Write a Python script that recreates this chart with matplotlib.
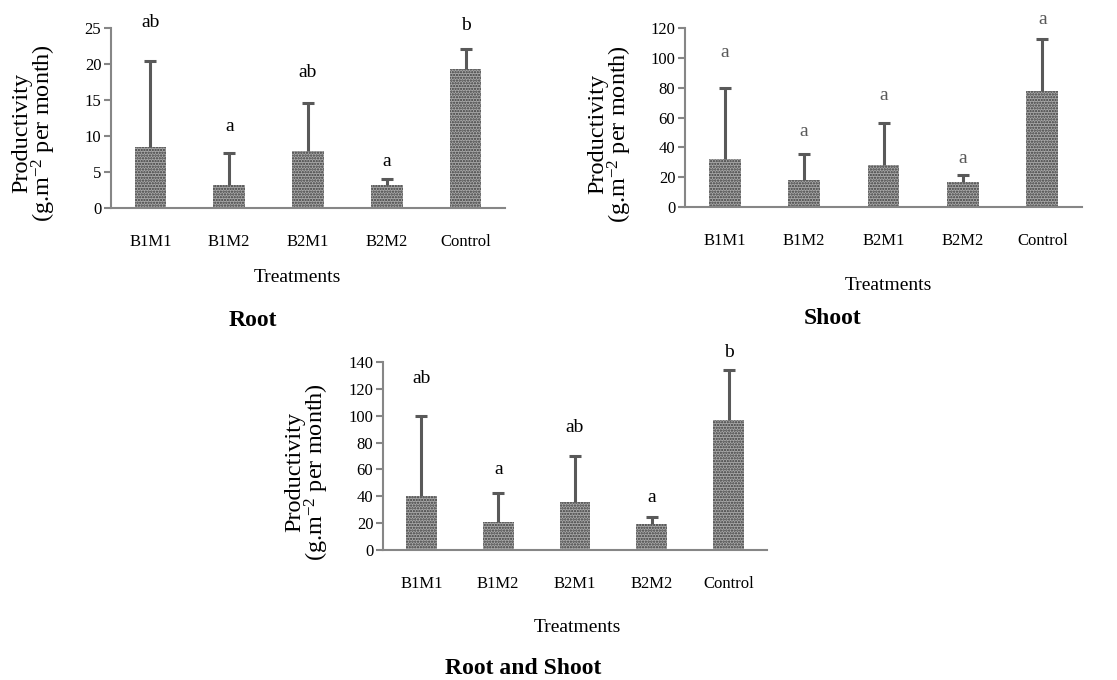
import numpy as np
import matplotlib
matplotlib.use("Agg")
import matplotlib.pyplot as plt

plt.rcParams["font.family"] = ["Liberation Serif", "DejaVu Serif"]
plt.rcParams["mathtext.fontset"] = "custom"
plt.rcParams["mathtext.rm"] = "Liberation Serif"
plt.rcParams["mathtext.it"] = "Liberation Serif:italic"
plt.rcParams["hatch.linewidth"] = 1.1

# ---- data ----
categories = ["B1M1", "B1M2", "B2M1", "B2M2", "Control"]

root_mean = [8.5, 3.2, 7.9, 3.2, 19.3]
root_upper = [20.4, 7.7, 14.6, 4.0, 22.1]
root_letters = ["ab", "a", "ab", "a", "b"]
root_letter_y = [25.8, 11.3, 18.8, 6.4, 25.4]
root_ticks = [0, 5, 10, 15, 20, 25]

shoot_mean = [32.0, 17.9, 28.2, 16.8, 77.8]
shoot_upper = [79.5, 35.3, 56.3, 21.7, 112.6]
shoot_letters = ["a", "a", "a", "a", "a"]
shoot_letter_y = [103.9, 50.3, 74.9, 32.4, 125.8]
shoot_ticks = [0, 20, 40, 60, 80, 100, 120]

both_mean = [40.2, 20.6, 35.5, 19.1, 96.8]
both_upper = [99.8, 42.2, 70.2, 24.6, 134.0]
both_letters = ["ab", "a", "ab", "a", "b"]
both_letter_y = [128, 60, 91, 39, 147]
both_ticks = [0, 20, 40, 60, 80, 100, 120, 140]

W, H = 1117, 680
fig = plt.figure(figsize=(W / 100, H / 100), dpi=100)

AXIS_GRAY = "#868686"
ERR_GRAY = "#595959"
YLABEL = "Productivity\n(g.m$^{-2}$ per month)"


def px_rect(left, top, right, bottom):
    return [left / W, (H - bottom) / H, (right - left) / W, (bottom - top) / H]


def draw_panel(rect, mean, upper, letters, letter_y, ticks, letter_color,
               ylab_xy, treat_xy, title, title_xy):
    ax = fig.add_axes(px_rect(*rect))
    x = np.arange(len(categories))
    mean = np.array(mean)
    upper = np.array(upper)
    ax.bar(x, mean, width=0.4, color="#a9a9a9", edgecolor="#3a3a3a",
           linewidth=0, hatch="......", zorder=2)
    _, caps, _ = ax.errorbar(x, mean, yerr=[np.zeros_like(mean), upper - mean],
                             fmt="none", ecolor=ERR_GRAY, elinewidth=2.2,
                             capsize=4.5, capthick=2.2, zorder=3)
    # only the upper caps, like the one-sided bars in the original
    for c in caps:
        if np.allclose(c.get_ydata(), mean):
            c.set_visible(False)
    for xi, lab, ly in zip(x, letters, letter_y):
        ax.text(xi, ly, lab, ha="center", va="center", fontsize=14, color=letter_color)
    ax.set_xlim(-0.5, len(categories) - 0.5)
    ax.set_ylim(0, ticks[-1])
    ax.set_yticks(ticks)
    ax.set_xticks(x)
    ax.set_xticklabels(categories)
    for s in ["top", "right"]:
        ax.spines[s].set_visible(False)
    for s in ["left", "bottom"]:
        ax.spines[s].set_color(AXIS_GRAY)
        ax.spines[s].set_linewidth(1.5)
    ax.tick_params(axis="y", colors=AXIS_GRAY, labelcolor="black", length=5,
                   width=1.5, labelsize=12, pad=2)
    ax.tick_params(axis="x", length=0, labelsize=12, pad=19)
    fig.text(ylab_xy[0] / W, 1 - ylab_xy[1] / H, YLABEL, rotation=90, ha="center",
             va="center", multialignment="center", fontsize=17.5, linespacing=0.88)
    fig.text(treat_xy[0] / W, 1 - treat_xy[1] / H, "Treatments", ha="center",
             va="center", fontsize=14)
    fig.text(title_xy[0] / W, 1 - title_xy[1] / H, title, ha="center", va="center",
             fontsize=17, fontweight="bold")
    return ax


draw_panel((111, 28, 505, 208), root_mean, root_upper, root_letters, root_letter_y,
           root_ticks, "black", (35, 133), (297, 277), "Root", (253, 320))
draw_panel((685, 28, 1082, 207), shoot_mean, shoot_upper, shoot_letters, shoot_letter_y,
           shoot_ticks, "#595959", (611, 134), (888, 285), "Shoot", (833, 318))
draw_panel((383, 362, 767, 550), both_mean, both_upper, both_letters, both_letter_y,
           both_ticks, "black", (308, 472), (577, 628), "Root and Shoot", (523, 668))

fig.savefig("out.png", dpi=100)
